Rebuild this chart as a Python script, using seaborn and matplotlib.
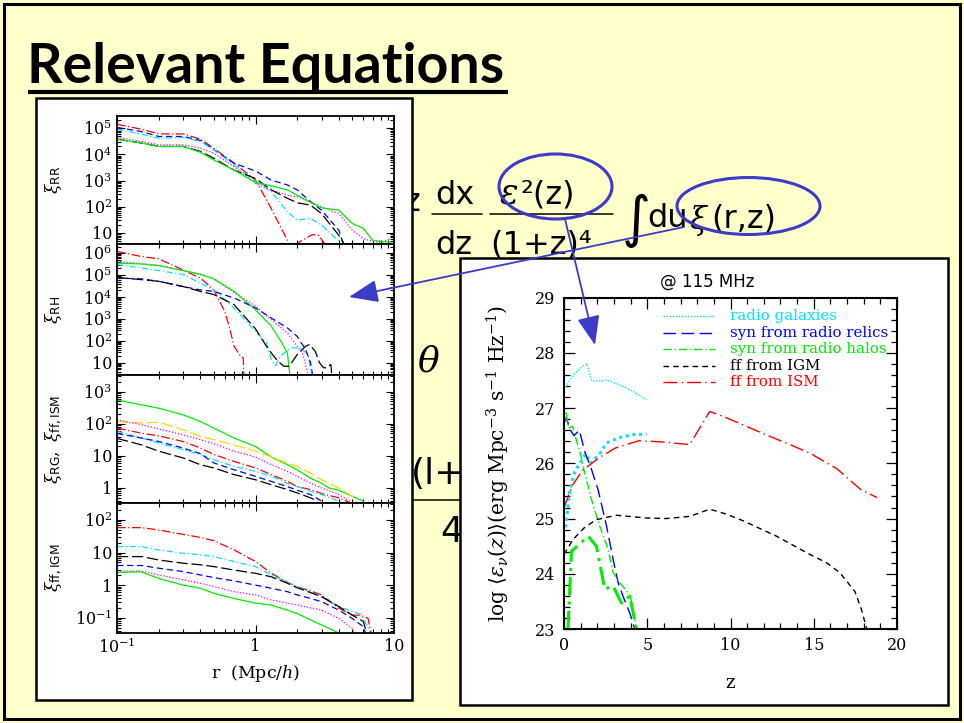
import numpy as np
import matplotlib
matplotlib.use("Agg")
import matplotlib.pyplot as plt
from matplotlib.patches import Rectangle, Ellipse
from matplotlib.ticker import (FixedLocator, FixedFormatter, LogLocator,
                               NullFormatter, MultipleLocator)
import seaborn as sns

sns.set_style("ticks")
plt.rcParams["font.family"] = ["DejaVu Serif"]
plt.rcParams["mathtext.fontset"] = "dejavuserif"
for key in ("text.color", "axes.labelcolor", "xtick.color", "ytick.color", "axes.edgecolor"):
    plt.rcParams[key] = "black"

# ---------------------------------------------------------------- data
# correlation functions  xi(r),  r in Mpc/h
# panel 1 : xi_RR
RR_RED_R = [0.1, 0.15, 0.2, 0.3, 0.4, 0.5, 0.7, 1.0, 1.3, 1.75, 1.9, 2.07, 2.57, 2.86, 3.2, 3.4]
RR_RED = [1.4e5, 9.1e4, 6.0e4, 6.0e4, 3.8e4, 1.7e4, 4.6e3, 1.05e3, 85, 3.9, 2.0, 4.5, 8.7, 8.1, 3.5, 1.0]
RR_BLUE_R = [0.1, 0.15, 0.2, 0.3, 0.4, 0.5, 0.7, 1.0, 1.3, 1.7, 2.0, 2.5, 3.0, 4.0, 4.3, 4.6]
RR_BLUE = [1.06e5, 7.4e4, 4.8e4, 4.8e4, 3.4e4, 1.5e4, 4.6e3, 2.3e3, 1.04e3, 680, 440, 156, 74, 12.6, 4.0, 1.0]
RR_CYAN_R = [0.1, 0.15, 0.2, 0.3, 0.4, 0.5, 0.7, 1.0, 1.3, 1.7, 2.0, 2.5, 3.0, 4.0, 4.4]
RR_CYAN = [9.1e4, 5.9e4, 4.1e4, 4.4e4, 3.1e4, 1.5e4, 3.9e3, 920, 375, 64, 31, 36, 20, 4.8, 1.0]
RR_MAG_R = [0.1, 0.15, 0.2, 0.3, 0.4, 0.5, 0.7, 1.0, 1.3, 1.7, 2.0, 2.5, 3.0, 4.0, 5.0, 6.0, 7.0, 8.0, 9.5]
RR_MAG = [4.4e4, 3.1e4, 2.3e4, 2.3e4, 1.7e4, 1.1e4, 3.4e3, 780, 440, 275, 240, 156, 100, 55, 12.6, 6.0, 4.8, 4.4, 6.0]
RR_BLACK_R = [0.1, 0.15, 0.2, 0.3, 0.4, 0.5, 0.7, 1.0, 1.3, 1.7, 2.0, 2.5, 3.0, 4.0, 4.3, 4.6]
RR_BLACK = [3.8e4, 2.7e4, 2.0e4, 2.0e4, 1.3e4, 7.1e3, 2.5e3, 1.2e3, 440, 210, 142, 115, 55, 8.1, 4.4, 1.0]
RR_GREEN_R = [0.1, 0.15, 0.2, 0.3, 0.4, 0.5, 0.7, 1.0, 1.3, 1.7, 2.0, 2.5, 3.0, 4.0, 5.0, 6.0, 7.0, 8.0, 9.5]
RR_GREEN = [3.8e4, 2.7e4, 2.0e4, 2.0e4, 1.2e4, 6.1e3, 2.5e3, 850, 630, 440, 275, 146, 91, 74, 23, 15, 5.3, 4.8, 4.4]

# panel 2 : xi_RH
RH_RED_R = [0.1, 0.15, 0.2, 0.3, 0.4, 0.5, 0.6, 0.65, 0.7, 0.78, 0.815, 0.83]
RH_RED = [1.2e6, 7e5, 5.5e5, 1.7e5, 7.3e4, 2.1e4, 2.2e3, 390, 57, 20, 17, 1.0]
RH_MAG_R = [0.1, 0.15, 0.2, 0.3, 0.4, 0.5, 0.7, 1.0, 1.3, 1.7, 2.0, 2.2, 2.5]
RH_MAG = [4.2e5, 3.3e5, 2.8e5, 1.6e5, 1.05e5, 6.7e4, 1.6e4, 3.8e3, 930, 230, 57, 24, 1.0]
RH_GREEN_R = [0.1, 0.15, 0.2, 0.3, 0.4, 0.5, 0.7, 1.0, 1.3, 1.55, 1.7, 1.8]
RH_GREEN = [3.5e5, 3.2e5, 2.7e5, 1.6e5, 1.1e5, 6.7e4, 1.8e4, 2.6e3, 470, 81, 28, 1.0]
RH_CYAN_R = [0.1, 0.15, 0.2, 0.3, 0.4, 0.5, 0.7, 1.0, 1.2, 1.3, 1.4, 1.5, 1.8, 2.1, 2.4, 2.6]
RH_CYAN = [3e5, 2.1e5, 1.6e5, 1.05e5, 4.3e4, 2.1e4, 3.2e3, 275, 81, 14, 7.6, 20, 48, 48, 24, 1.0]
RH_BLUE_R = [0.1, 0.15, 0.2, 0.3, 0.4, 0.5, 0.7, 1.0, 1.3, 1.7, 2.0, 2.3, 2.5, 2.65]
RH_BLUE = [7.3e4, 6.7e4, 5.2e4, 3e4, 2.1e4, 1.8e4, 9e3, 3.2e3, 1.1e3, 390, 160, 41, 10, 1.0]
RH_BLACK_R = [0.1, 0.15, 0.2, 0.3, 0.4, 0.5, 0.7, 1.0, 1.2, 1.3, 1.45, 1.6, 1.75, 2.0, 2.3, 2.45,
              2.7, 2.9, 3.1, 3.3, 3.5, 3.6]
RH_BLACK = [7.7e4, 6.2e4, 5.2e4, 3e4, 1.8e4, 1.3e4, 4.5e3, 355, 57, 28, 12, 7, 7, 24, 57, 68,
            34, 10, 6, 6, 8.6, 1.0]

# panel 3 : xi_RG and xi_ff,ISM
RG_GREEN_R = [0.1, 0.15, 0.2, 0.3, 0.4, 0.5, 0.7, 1.0, 1.3, 1.7, 2.0, 2.5, 3.0, 3.4, 4.0, 5.0, 6.0]
RG_GREEN = [550, 390, 305, 190, 118, 73, 36, 19.5, 9.2, 5.3, 3.7, 2.0, 1.4, 1.0, 0.85, 0.55, 0.39]
RG_YELLOW_R = [0.1, 0.15, 0.2, 0.3, 0.4, 0.5, 0.7, 1.0, 1.3, 1.7, 2.0, 2.5, 3.0, 4.0, 5.0, 5.3]
RG_YELLOW = [117, 105, 112, 65, 40, 32, 22, 14, 9.2, 6.0, 4.7, 2.9, 1.8, 1.0, 0.55, 0.39]
RG_MAG_R = [0.1, 0.15, 0.2, 0.3, 0.4, 0.5, 0.7, 1.0, 1.3, 1.7, 2.0, 2.5, 3.0, 4.0, 4.8]
RG_MAG = [132, 93, 69, 45, 32, 24, 14, 9.2, 5.3, 3.3, 2.3, 1.4, 1.0, 0.62, 0.39]
RG_RED_R = [0.1, 0.15, 0.2, 0.3, 0.4, 0.5, 0.7, 1.0, 1.3, 1.7, 2.0, 2.5, 3.0, 4.0, 4.8]
RG_RED = [73, 51, 42, 28, 17.5, 11, 6.7, 4.2, 2.6, 1.6, 1.1, 0.89, 0.67, 0.49, 0.35]
RG_CYAN_R = [0.1, 0.15, 0.2, 0.3, 0.4, 0.5, 0.7, 1.0, 1.3, 1.7, 2.0, 2.5, 3.0, 4.0]
RG_CYAN = [58, 36, 25, 15.6, 11, 7.6, 4.7, 3.3, 2.3, 1.4, 1.1, 0.79, 0.62, 0.39]
RG_BLUE_R = [0.1, 0.15, 0.2, 0.3, 0.4, 0.5, 0.7, 1.0, 1.3, 1.7, 2.0, 2.5, 3.0]
RG_BLUE = [50, 36, 28, 17.5, 11.7, 6.0, 3.7, 2.3, 1.6, 1.1, 0.85, 0.62, 0.39]
RG_BLACK_R = [0.1, 0.15, 0.2, 0.3, 0.4, 0.5, 0.7, 1.0, 1.3, 1.7, 2.0, 2.5, 2.8]
RG_BLACK = [35, 22, 14, 8.6, 5.3, 4.2, 2.6, 1.8, 1.26, 0.89, 0.7, 0.49, 0.39]

# panel 4 : xi_ff,IGM
FF_RED_R = [0.1, 0.15, 0.2, 0.3, 0.4, 0.5, 0.7, 1.0, 1.3, 1.7, 2.0, 2.5, 3.0, 4.0, 5.0, 5.7, 6.5, 7.0]
FF_RED = [58, 58, 49, 36, 29, 23, 12, 5.3, 2.3, 1.22, 0.9, 0.66, 0.5, 0.196, 0.12, 0.12, 0.095, 0.02]
FF_CYAN_R = [0.1, 0.15, 0.2, 0.3, 0.4, 0.5, 0.7, 1.0, 1.3, 1.7, 2.0, 2.5, 3.0, 4.0, 5.0, 5.7, 6.5, 7.0]
FF_CYAN = [15.2, 15.2, 12, 9.5, 8.5, 7.5, 5.3, 3.7, 2.05, 1.22, 0.9, 0.6, 0.44, 0.22, 0.155, 0.13, 0.05, 0.02]
FF_BLACK_R = [0.1, 0.15, 0.2, 0.3, 0.4, 0.5, 0.7, 1.0, 1.3, 1.7, 2.0, 2.5, 3.0, 4.0, 5.0, 6.0, 6.6]
FF_BLACK = [7.5, 7.5, 5.9, 4.7, 4.2, 3.7, 2.9, 2.3, 1.8, 1.14, 0.83, 0.59, 0.44, 0.22, 0.12, 0.077, 0.02]
FF_BLUE_R = [0.1, 0.15, 0.2, 0.3, 0.4, 0.5, 0.7, 1.0, 1.3, 1.7, 2.0, 2.5, 3.0, 4.0, 5.0, 6.0, 6.5]
FF_BLUE = [4.0, 4.0, 3.3, 2.6, 2.05, 1.7, 1.35, 1.0, 0.8, 0.63, 0.5, 0.39, 0.31, 0.17, 0.095, 0.053, 0.02]
FF_MAG_R = [0.1, 0.15, 0.2, 0.3, 0.4, 0.5, 0.7, 1.0, 1.3, 1.7, 2.0, 2.5, 3.0, 4.0, 5.0, 5.5]
FF_MAG = [2.7, 2.7, 2.05, 1.45, 1.14, 0.9, 0.63, 0.5, 0.35, 0.28, 0.245, 0.2, 0.17, 0.095, 0.047, 0.02]
FF_GREEN_R = [0.1, 0.15, 0.2, 0.3, 0.4, 0.5, 0.7, 1.0, 1.3, 1.7, 2.0, 2.5, 3.0, 4.0]
FF_GREEN = [2.45, 2.55, 1.6, 1.0, 0.8, 0.56, 0.39, 0.28, 0.245, 0.17, 0.135, 0.085, 0.06, 0.034]

# emissivity log <eps_nu(z)> at 115 MHz
RG_HI_Z = [0, 0.55, 0.85, 1.36, 1.66, 2.16, 2.56, 3.36, 4.16, 4.96]
RG_HI = [27.33, 27.6, 27.69, 27.81, 27.49, 27.49, 27.51, 27.42, 27.30, 27.15]
RG_LO_Z = [0.1, 0.34, 0.64, 1.3, 1.6, 2.2, 2.56, 3.36, 4.16, 4.96]
RG_LO = [24.84, 25.5, 25.85, 26.17, 26.0, 26.2, 26.37, 26.47, 26.52, 26.53]
RELIC_Z = [0, 0.16, 0.32, 0.6, 0.92, 1.26, 1.64, 2.04, 2.55, 2.95, 3.25, 3.55, 3.95, 4.25]
RELIC = [26.73, 26.82, 26.64, 26.5, 26.6, 26.2, 25.9, 25.53, 24.87, 24.26, 23.84, 23.59, 23.29, 23.0]
HALO_HI_Z = [0.0, 0.12, 0.26, 0.52, 0.76, 1.0, 1.14, 1.64, 2.14, 2.65, 2.95, 3.35, 3.99, 4.35]
HALO_HI = [26.7, 26.94, 26.64, 26.67, 26.4, 26.16, 25.96, 25.35, 24.87, 24.44, 24.02, 23.84, 23.6, 23.0]
HALO_LO_Z = [0.24, 0.45, 1.45, 1.95, 2.45, 2.95, 3.45, 3.95, 4.35]
HALO_LO = [23.0, 24.41, 24.68, 24.5, 23.72, 23.78, 23.47, 23.6, 23.0]
IGM_Z = [0, 0.54, 1.24, 1.94, 3.15, 4.95, 6.15, 7.55, 8.76, 9.76, 10.76, 12.77, 14.77, 15.77,
         16.57, 17.47, 17.87, 18.18]
IGM = [24.35, 24.62, 24.84, 24.98, 25.06, 25.01, 25.0, 25.04, 25.17, 25.08, 24.96, 24.68, 24.35,
       24.2, 24.02, 23.68, 23.35, 23.0]
ISM_Z = [0, 0.5, 1.1, 2.1, 3.1, 4.5, 5.8, 7.55, 8.75, 9.8, 11.8, 13.8, 14.8, 16.4, 17.8, 18.8]
ISM = [25.2, 25.6, 25.87, 26.1, 26.28, 26.41, 26.39, 26.34, 26.94, 26.82, 26.56, 26.31, 26.18,
       25.9, 25.53, 25.38]

LEGEND_LABELS = ["radio galaxies", "syn from radio relics", "syn from radio halos",
                 "ff from IGM", "ff from ISM"]

# ---------------------------------------------------------------- styles
RED, BLUE, CYAN, MAG, BLACK, GREEN, YELLOW = ("#ff0000", "#0000ff", "#00e5ff", "#ff00ff",
                                              "#000000", "#00ee00", "#ffd800")
LS = {
    "red": (0, (7, 2, 1, 2)),
    "blue": (0, (5, 3)),
    "cyan": (0, (5, 2, 1, 2)),
    "mag": (0, (1, 1.5)),
    "black": (0, (9, 3)),
    "green": "-",
    "yellow": (0, (9, 3)),
}
SLIDE = "#ffffcc"
ARROW = "#3b3bc8"

W, H = 964, 723
fig = plt.figure(figsize=(W / 100, H / 100), dpi=100)


def box(x0, y0, x1, y1):
    return [x0 / W, 1 - y1 / H, (x1 - x0) / W, (y1 - y0) / H]


# ---------------------------------------------------------------- slide
bg = fig.add_axes([0, 0, 1, 1], zorder=0)
bg.set_xlim(0, W)
bg.set_ylim(H, 0)
bg.axis("off")
bg.add_patch(Rectangle((0, 0), W, H, facecolor=SLIDE, edgecolor="none", zorder=0))
bg.add_patch(Rectangle((4, 4), 956, 715, fill=False, edgecolor="black", lw=2.2, zorder=1))

bg.text(27, 83, "Relevant Equations", fontsize=40, fontweight="bold", color="black",
        family=["Lato", "DejaVu Sans"], va="baseline", ha="left", zorder=2)
bg.plot([28, 508], [91.5, 91.5], color="black", lw=3.0, solid_capstyle="butt", zorder=2)

# equation fragments
EQ = dict(family=["DejaVu Sans"], va="baseline", ha="left", color="black", zorder=2)
bg.text(404, 211, "z", fontsize=23, **EQ)
bg.text(435, 204, "dx", fontsize=23, **EQ)
bg.text(435, 254, "dz", fontsize=23, **EQ)
bg.plot([432, 482], [214, 214], color="black", lw=1.1, zorder=2)
bg.text(499, 204, r"$\varepsilon$", fontsize=25, **EQ)
bg.text(521, 204, "\u00b2(z)", fontsize=23, **EQ)
bg.plot([490, 613], [214, 214], color="black", lw=1.1, zorder=2)
bg.text(490, 254, "(1+z)\u2074", fontsize=23, **EQ)
bg.text(622, 236, "\u222b", fontsize=40, **EQ)
bg.text(647, 227, "du", fontsize=23, **EQ)
bg.text(689, 229, r"$\xi$", fontsize=22, **EQ)
bg.text(711, 227, "(r,z)", fontsize=23, **EQ)
bg.text(417, 372, r"$\theta$", fontsize=26, **EQ)
bg.text(411, 484, "(l+", fontsize=26, **EQ)
bg.plot([412, 470], [500, 500], color="black", lw=1.1, zorder=2)
bg.text(440, 542, "4", fontsize=26, **EQ)

bg.add_patch(Ellipse((555.5, 186.5), 113, 65, fill=False, edgecolor=ARROW, lw=2.2, zorder=3))
bg.add_patch(Ellipse((748.5, 206), 143, 57, fill=False, edgecolor=ARROW, lw=2.2, zorder=3))

# white panels
bg.add_patch(Rectangle((36, 98), 376, 602, facecolor="white", edgecolor="black", lw=1.8, zorder=5))
bg.add_patch(Rectangle((460, 258), 488, 447, facecolor="white", edgecolor="black", lw=1.8, zorder=5))

# ---------------------------------------------------------------- left: xi(r)
panels = [
    dict(px=(117, 116, 394, 244), ylim=(3.8, 2.9e5), ticks=[10, 1e2, 1e3, 1e4, 1e5],
         labels=["10", r"$10^2$", r"$10^3$", r"$10^4$", r"$10^5$"],
         ylabel=r"$\xi_{\mathsf{RR}}$",
         curves=[(RR_RED_R, RR_RED, RED, "red"), (RR_BLUE_R, RR_BLUE, BLUE, "blue"),
                 (RR_CYAN_R, RR_CYAN, CYAN, "cyan"), (RR_MAG_R, RR_MAG, MAG, "mag"),
                 (RR_BLACK_R, RR_BLACK, BLACK, "black"), (RR_GREEN_R, RR_GREEN, GREEN, "green")]),
    dict(px=(117, 244, 394, 375), ylim=(2.8, 2.6e6), ticks=[10, 1e2, 1e3, 1e4, 1e5, 1e6],
         labels=["10", r"$10^2$", r"$10^3$", r"$10^4$", r"$10^5$", r"$10^6$"],
         ylabel=r"$\xi_{\mathsf{RH}}$",
         curves=[(RH_RED_R, RH_RED, RED, "red"), (RH_MAG_R, RH_MAG, MAG, "mag"),
                 (RH_GREEN_R, RH_GREEN, GREEN, "green"), (RH_CYAN_R, RH_CYAN, CYAN, "cyan"),
                 (RH_BLUE_R, RH_BLUE, BLUE, "blue"), (RH_BLACK_R, RH_BLACK, BLACK, "black")]),
    dict(px=(117, 375, 394, 503), ylim=(0.34, 3300), ticks=[1, 10, 1e2, 1e3],
         labels=["1", "10", r"$10^2$", r"$10^3$"],
         ylabel=r"$\xi_{\mathsf{RG}},\ \xi_{\mathsf{ff,ISM}}$",
         curves=[(RG_GREEN_R, RG_GREEN, GREEN, "green"), (RG_YELLOW_R, RG_YELLOW, YELLOW, "yellow"),
                 (RG_MAG_R, RG_MAG, MAG, "mag"), (RG_RED_R, RG_RED, RED, "red"),
                 (RG_CYAN_R, RG_CYAN, CYAN, "cyan"), (RG_BLUE_R, RG_BLUE, BLUE, "blue"),
                 (RG_BLACK_R, RG_BLACK, BLACK, "black")]),
    dict(px=(117, 503, 394, 633), ylim=(0.034, 330), ticks=[0.1, 1, 10, 1e2],
         labels=[r"$10^{-1}$", "1", "10", r"$10^2$"],
         ylabel=r"$\xi_{\mathsf{ff,IGM}}$",
         curves=[(FF_RED_R, FF_RED, RED, "red"), (FF_CYAN_R, FF_CYAN, CYAN, "cyan"),
                 (FF_BLACK_R, FF_BLACK, BLACK, "black"), (FF_BLUE_R, FF_BLUE, BLUE, "blue"),
                 (FF_MAG_R, FF_MAG, MAG, "mag"), (FF_GREEN_R, FF_GREEN, GREEN, "green")]),
]

for i, p in enumerate(panels):
    ax = fig.add_axes(box(*p["px"]), zorder=1)
    ax.set_facecolor("white")
    ax.set_xscale("log")
    ax.set_yscale("log")
    for r, v, col, key in p["curves"]:
        sns.lineplot(x=r, y=v, ax=ax, color=col, lw=0.9, linestyle=LS[key],
                     sort=False, estimator=None, legend=False)
    ax.set_xlim(0.1, 10)
    ax.set_ylim(*p["ylim"])
    ax.xaxis.set_major_locator(FixedLocator([0.1, 1, 10]))
    ax.xaxis.set_minor_locator(LogLocator(base=10, subs=np.arange(2, 10)))
    ax.xaxis.set_minor_formatter(NullFormatter())
    ax.yaxis.set_major_locator(FixedLocator(p["ticks"]))
    ax.yaxis.set_major_formatter(FixedFormatter(p["labels"]))
    ax.yaxis.set_minor_locator(LogLocator(base=10, subs=np.arange(2, 10), numticks=20))
    ax.yaxis.set_minor_formatter(NullFormatter())
    ax.tick_params(which="both", direction="in", top=True, right=True, width=0.8)
    ax.tick_params(which="major", length=6, labelsize=11.5)
    ax.tick_params(which="minor", length=3)
    for s in ax.spines.values():
        s.set_linewidth(1.3)
    if i == 3:
        ax.xaxis.set_major_formatter(FixedFormatter([r"$10^{-1}$", "1", "10"]))
        ax.set_xlabel(r"r  (Mpc/$h$)", fontsize=12.5, labelpad=4)
    else:
        ax.xaxis.set_major_formatter(NullFormatter())
    ax.set_ylabel(p["ylabel"], fontsize=12.5)
    ax.yaxis.set_label_coords(-0.19, 0.5)

# ---------------------------------------------------------------- right: emissivity
ax = fig.add_axes(box(564, 297.7, 897, 629), zorder=1)
ax.set_facecolor("white")
DOT, DASH_L, DASHDOT, DASH_S, DASHDOT_L = ((0, (1, 1.2)), (0, (9, 4)), (0, (6, 2, 1, 2)),
                                            (0, (4, 3)), (0, (10, 3, 1, 3)))
right_curves = [
    (RG_HI_Z, RG_HI, CYAN, DOT, 1.0),
    (RG_LO_Z, RG_LO, CYAN, DOT, 2.2),
    (RELIC_Z, RELIC, BLUE, DASH_L, 1.0),
    (HALO_HI_Z, HALO_HI, GREEN, DASHDOT, 1.0),
    (HALO_LO_Z, HALO_LO, GREEN, DASHDOT, 2.2),
    (IGM_Z, IGM, BLACK, DASH_S, 1.0),
    (ISM_Z, ISM, RED, DASHDOT_L, 1.0),
]
for z, v, col, ls, lw in right_curves:
    sns.lineplot(x=z, y=v, ax=ax, color=col, lw=lw, linestyle=ls,
                 sort=False, estimator=None, legend=False)
ax.set_xlim(0, 20)
ax.set_ylim(23, 29)
ax.xaxis.set_major_locator(MultipleLocator(5))
ax.xaxis.set_minor_locator(MultipleLocator(1))
ax.yaxis.set_major_locator(MultipleLocator(1))
ax.yaxis.set_minor_locator(MultipleLocator(0.2))
ax.tick_params(which="both", direction="in", top=True, right=True, width=0.9)
ax.tick_params(which="major", length=8, labelsize=11.5, pad=6)
ax.tick_params(which="minor", length=4)
for s in ax.spines.values():
    s.set_linewidth(1.5)
ax.set_xlabel("z", fontsize=13, labelpad=14)
ax.set_ylabel(r"log $\langle\epsilon_\nu(z)\rangle$(erg Mpc$^{-3}$ s$^{-1}$ Hz$^{-1}$)",
              fontsize=14.5)
ax.yaxis.set_label_coords(-0.155, 0.5)

leg_styles = [(CYAN, DOT), (BLUE, DASH_L), (GREEN, DASHDOT), (BLACK, DASH_S), (RED, DASHDOT_L)]
for k, (lab, (col, ls)) in enumerate(zip(LEGEND_LABELS, leg_styles)):
    yy = (629 - (316 + 16.5 * k)) / 331.3
    ax.plot([0.297, 0.453], [yy, yy], transform=ax.transAxes, color=col, lw=1.0, linestyle=ls)
    ax.text(0.498, yy, lab, transform=ax.transAxes, color=col, fontsize=10.8,
            va="center", ha="left")

bg.text(707, 282, "@ 115 MHz", fontsize=12, family=["DejaVu Sans"], ha="center",
        va="center", zorder=6)

# ---------------------------------------------------------------- arrows on top
fg = fig.add_axes([0, 0, 1, 1], zorder=10)
fg.set_xlim(0, W)
fg.set_ylim(H, 0)
fg.axis("off")
fg.patch.set_alpha(0)
arrow_kw = dict(arrowstyle="-|>,head_length=0.9,head_width=0.35", color=ARROW, lw=1.3,
                mutation_scale=20, shrinkA=0, shrinkB=0)
fg.annotate("", xy=(595, 345), xytext=(565, 219), arrowprops=arrow_kw)
fg.annotate("", xy=(349, 297), xytext=(684, 227), arrowprops=arrow_kw)

fig.savefig("out.png", dpi=100)
